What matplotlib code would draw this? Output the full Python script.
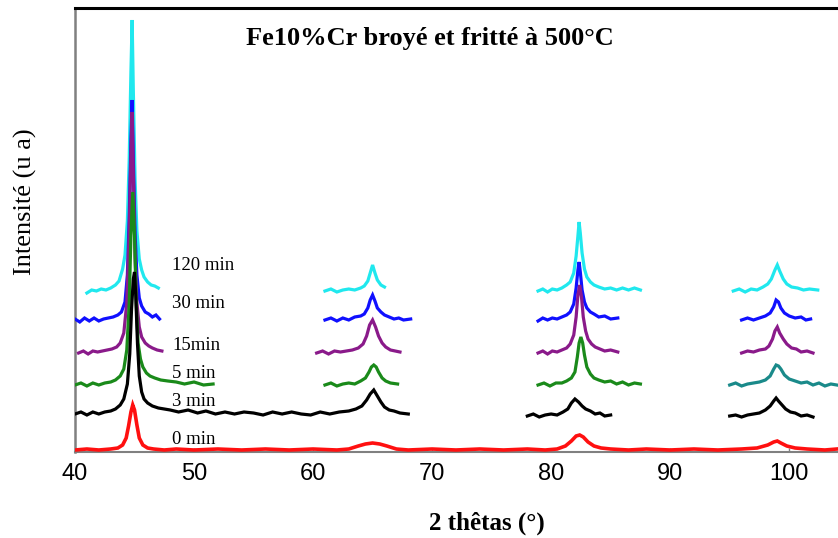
import matplotlib
matplotlib.use("Agg")
import matplotlib.pyplot as plt

# ---------------- data (intensity in arbitrary units) ----------------
labels = ["0 min", "3 min", "5 min", "15min", "30 min", "120 min"]
offsets = [2, 38, 67, 99, 132, 161]
label_y = [12, 51, 79, 107, 148, 187]
xticks = [40, 50, 60, 70, 80, 90, 100]

# 120 min (cyan)
x_120 = [
    [41.0, 41.4, 41.8, 42.2, 42.6, 43.0, 43.4, 43.7, 44.0, 44.2, 44.4, 44.55, 44.7, 44.8, 44.9, 45.05, 45.2, 45.4, 45.6, 45.8, 46.1, 46.4, 46.7, 47.0],
    [61.0, 61.5, 62.0, 62.5, 63.0, 63.5, 64.0, 64.3, 64.6, 64.8, 65.0, 65.2, 65.4, 65.7, 66.0],
    [78.9, 79.3, 79.7, 80.1, 80.5, 80.9, 81.3, 81.6, 81.9, 82.1, 82.25, 82.35, 82.45, 82.6, 82.8, 83.0, 83.3, 83.6, 84.0, 84.5, 85.0, 85.5, 86.0, 86.5, 87.0, 87.5],
    [95.3, 95.8, 96.3, 96.8, 97.3, 97.8, 98.2, 98.5, 98.8, 99.0, 99.2, 99.5, 99.8, 100.2, 100.7, 101.2, 101.7, 102.4],
]
i_120 = [
    [-2, 1, 0, 2, 1, 3, 6, 10, 22, 36, 70, 130, 220, 271, 200, 110, 60, 32, 21, 14, 9, 6, 5, 3],
    [0, 2, -1, 1, 2, 1, 3, 5, 10, 18, 26, 18, 11, 6, 4],
    [0, 2, -1, 2, 1, 3, 6, 9, 18, 35, 55, 69, 58, 38, 22, 14, 9, 6, 4, 2, 3, 1, 3, 1, 3, 1],
    [0, 2, -1, 2, 1, 4, 7, 12, 21, 26, 20, 12, 7, 4, 3, 1, 2, 1],
]

# 30 min (blue)
x_30 = [
    [40.0, 40.4, 40.8, 41.2, 41.6, 42.0, 42.4, 42.8, 43.2, 43.6, 43.9, 44.2, 44.4, 44.55, 44.7, 44.8, 44.9, 45.05, 45.2, 45.4, 45.6, 45.9, 46.2, 46.5, 46.8, 47.1],
    [61.0, 61.5, 62.0, 62.5, 63.0, 63.5, 64.0, 64.3, 64.6, 64.8, 65.0, 65.2, 65.4, 65.7, 66.0, 66.4, 66.8, 67.2, 67.6, 68.2],
    [78.9, 79.3, 79.7, 80.1, 80.5, 80.9, 81.3, 81.6, 81.9, 82.1, 82.25, 82.35, 82.45, 82.6, 82.8, 83.0, 83.3, 83.6, 84.0, 84.5, 85.0, 85.6],
    [96.0, 96.5, 97.0, 97.5, 98.0, 98.4, 98.7, 98.9, 99.1, 99.3, 99.6, 100.0, 100.5, 101.0, 101.4, 101.8],
]
i_30 = [
    [1, -2, 2, -1, 2, -1, 1, 2, 3, 5, 8, 18, 45, 100, 180, 220, 160, 85, 45, 22, 14, 8, 6, 3, 5, 1],
    [0, 2, -1, 2, 0, 3, 4, 6, 12, 20, 25, 19, 12, 8, 5, 3, 1, 2, 0, 1],
    [-1, 2, 0, 2, 1, 3, 5, 8, 16, 32, 50, 58, 48, 30, 18, 12, 8, 6, 3, 4, 1, 2],
    [0, 2, 0, 2, 4, 7, 13, 20, 18, 12, 7, 4, 2, 3, 0, 1],
]

# 15 min (purple)
x_15 = [
    [40.3, 40.7, 41.1, 41.5, 41.9, 42.3, 42.7, 43.1, 43.5, 43.8, 44.1, 44.35, 44.55, 44.7, 44.8, 44.9, 45.05, 45.2, 45.4, 45.6, 45.9, 46.2, 46.5, 46.9, 47.3],
    [60.3, 60.8, 61.3, 61.8, 62.3, 62.8, 63.3, 63.8, 64.2, 64.5, 64.75, 65.0, 65.25, 65.5, 65.8, 66.1, 66.5, 66.9, 67.3],
    [78.9, 79.3, 79.7, 80.1, 80.5, 80.9, 81.3, 81.6, 81.9, 82.1, 82.25, 82.4, 82.55, 82.7, 82.9, 83.1, 83.4, 83.7, 84.1, 84.5, 85.0, 85.6],
    [96.0, 96.5, 97.0, 97.5, 98.0, 98.3, 98.6, 98.8, 99.0, 99.2, 99.5, 99.8, 100.2, 100.6, 101.0, 101.5, 102.0],
]
i_15 = [
    [0, 2, -1, 2, 1, 2, 3, 4, 6, 10, 20, 50, 120, 200, 241, 180, 95, 50, 26, 16, 10, 7, 5, 3, 2],
    [0, 2, -1, 2, 1, 2, 3, 5, 9, 17, 28, 33, 26, 17, 10, 6, 3, 2, 1],
    [0, 2, -1, 2, 1, 3, 5, 9, 18, 36, 58, 68, 56, 36, 22, 14, 9, 6, 4, 2, 3, 1],
    [0, 2, 1, 3, 4, 7, 14, 22, 26, 20, 14, 9, 5, 4, 1, 2, 0],
]

# 5 min (green, last segment teal)
x_5 = [
    [40.0, 40.5, 41.0, 41.5, 42.0, 42.5, 43.0, 43.4, 43.8, 44.1, 44.35, 44.55, 44.7, 44.85, 45.0, 45.15, 45.3, 45.5, 45.7, 46.0, 46.3, 46.7, 47.2, 47.8, 48.5, 49.2, 50.0, 50.8, 51.6],
    [61.0, 61.5, 62.0, 62.5, 63.0, 63.5, 64.0, 64.4, 64.7, 64.9, 65.1, 65.3, 65.5, 65.8, 66.1, 66.5, 67.1],
    [78.9, 79.4, 79.9, 80.4, 80.9, 81.3, 81.7, 82.0, 82.2, 82.35, 82.5, 82.65, 82.8, 83.0, 83.3, 83.6, 84.0, 84.5, 85.0, 85.5, 86.0, 86.5, 87.0, 87.5],
    [95.0, 95.5, 96.0, 96.5, 97.0, 97.5, 98.0, 98.4, 98.7, 98.9, 99.1, 99.3, 99.6, 100.0, 100.5, 101.0, 101.5, 102.0, 102.5, 103.0, 103.5, 104.0],
]
i_5 = [
    [0, 2, -1, 2, 0, 2, 3, 5, 9, 16, 35, 80, 150, 193, 150, 80, 42, 26, 18, 12, 9, 7, 5, 4, 3, 1, 3, 0, 1],
    [0, 2, -1, 1, 2, 1, 4, 7, 13, 18, 20, 18, 13, 7, 4, 2, 1],
    [0, 2, -1, 2, 2, 4, 7, 13, 28, 42, 48, 42, 30, 18, 11, 7, 5, 3, 4, 1, 3, 0, 2, 1],
    [0, 2, -1, 1, 2, 3, 5, 9, 16, 20, 19, 16, 10, 6, 4, 2, 3, 0, 2, -1, 1, 0],
]

# 3 min (black)
x_3 = [
    [40.0, 40.5, 41.0, 41.5, 42.0, 42.5, 43.0, 43.4, 43.8, 44.1, 44.4, 44.6, 44.75, 44.9, 45.0, 45.1, 45.25, 45.4, 45.6, 45.8, 46.1, 46.5, 47.0, 47.5, 48.0,
     48.7, 49.5, 50.3, 51.0, 51.8, 52.6, 53.4, 54.2, 55.0, 55.8, 56.6, 57.4, 58.2, 59.0, 59.8, 60.6, 61.4, 62.2, 63.0, 63.6, 64.1, 64.5, 64.8, 65.1, 65.4,
     65.7, 66.0, 66.4, 66.8, 67.3, 68.0],
    [78.0, 78.5, 79.0, 79.5, 80.0, 80.5, 81.0, 81.4, 81.7, 82.0, 82.3, 82.6, 82.9, 83.3, 83.7, 84.1, 84.5, 85.0],
    [95.0, 95.5, 96.0, 96.5, 97.0, 97.5, 98.0, 98.4, 98.7, 98.9, 99.1, 99.4, 99.7, 100.1, 100.5, 101.0, 101.5, 102.0],
]
i_3 = [
    [0, 2, -1, 2, 0, 2, 3, 5, 9, 15, 30, 60, 105, 135, 142, 120, 70, 38, 22, 15, 11, 8, 6, 5, 4,
     2, 4, 1, 3, 0, 2, 0, 2, 1, -1, 2, 0, 2, 0, -1, 2, 0, 2, 3, 5, 8, 14, 20, 24, 18,
     12, 7, 4, 3, 1, 0],
    [-2, 0, -3, -1, 0, -1, 2, 5, 11, 15, 12, 8, 5, 3, 0, 1, -2, -1],
    [-2, -1, -3, -1, 0, 1, 4, 8, 13, 16, 13, 9, 5, 2, 1, -2, -1, -3],
]

# 0 min (red)
x_0 = [[40, 41, 42, 43, 43.6, 44.0, 44.3, 44.5, 44.7, 44.85, 45.0, 45.2, 45.4, 45.7, 46.1, 46.6, 47.5, 48.5, 50, 52, 54, 56, 58, 60,
        62, 63, 63.8, 64.4, 65.0, 65.6, 66.2, 67, 68, 70, 72, 74, 76, 78, 79.5, 80.5, 81.2, 81.7, 82.1, 82.4, 82.7, 83.1, 83.6,
        84.2, 85, 86.5, 88, 90, 92, 94, 96, 97.3, 98.2, 98.7, 99.0, 99.3, 99.8, 100.5, 101.5, 103, 104]]
i_0 = [[0, 1, 0, 1, 2, 5, 12, 24, 38, 45, 40, 25, 12, 5, 2, 1, 0, 1, 0, 1, 0, 1, 0, 1,
        0, 1, 4, 6, 7, 6, 4, 1, 0, 1, 0, 1, 0, 1, 0, 1, 4, 9, 14, 15, 13, 8, 4,
        2, 1, 0, 1, 0, 1, 0, 1, 2, 5, 8, 9, 7, 4, 2, 1, 0, 1]]

xs = [x_0, x_3, x_5, x_15, x_30, x_120]
ints = [i_0, i_3, i_5, i_15, i_30, i_120]

# ---------------- style ----------------
colors = ["#ff1010", "#000000", "#1a8a1a", "#8a1a8a", "#1010ff", "#20e8ee"]
seg_colors = {(2, 3): "#1a8a8a"}
draw_order = [5, 4, 3, 2, 1, 0]
zorders = {5: 2, 4: 3, 3: 4, 2: 5, 1: 6, 0: 7}
widths = {0: 2.6}

fig = plt.figure(figsize=(8.38, 5.38), dpi=100)
ax = fig.add_axes([75 / 838, 86 / 538, 1 - 75 / 838, 444 / 538])

for s in draw_order:
    for k, (xx, yy) in enumerate(zip(xs[s], ints[s])):
        c = seg_colors.get((s, k), colors[s])
        ax.plot(xx, [v + offsets[s] for v in yy], color=c, lw=widths.get(s, 2.3),
                solid_joinstyle="miter", zorder=zorders[s])

for s, lab in enumerate(labels):
    ax.text(48.15, label_y[s], lab, fontsize=13.5, family="Liberation Serif",
            ha="left", va="center", zorder=10)

ax.set_xlim(40, 104.1)
ax.set_ylim(0, 444)
ax.set_xticks(xticks)
ax.set_xticklabels([str(t) for t in xticks], fontsize=17, family="Liberation Sans")
ax.tick_params(axis="x", direction="in", length=3, width=1, color="#808080", pad=8)
ax.set_yticks([])

ax.spines["right"].set_visible(False)
ax.spines["top"].set_color("black")
ax.spines["top"].set_linewidth(2.2)
ax.spines["left"].set_color("#808080")
ax.spines["left"].set_linewidth(1.8)
ax.spines["bottom"].set_color("#808080")
ax.spines["bottom"].set_linewidth(1.5)

fig.text(430 / 838, 1 - 39 / 538, "Fe10%Cr broyé et fritté à 500°C", fontsize=19,
         fontweight="bold", family="Liberation Serif", ha="center", va="center")
fig.text(487 / 838, 1 - 523 / 538, "2 thêtas (°)", fontsize=18, fontweight="bold",
         family="Liberation Serif", ha="center", va="center")
fig.text(25 / 838, 1 - 202 / 538, "Intensité (u a)", fontsize=19, rotation=90,
         family="Liberation Serif", ha="center", va="center")

fig.savefig("out.png", dpi=100)
